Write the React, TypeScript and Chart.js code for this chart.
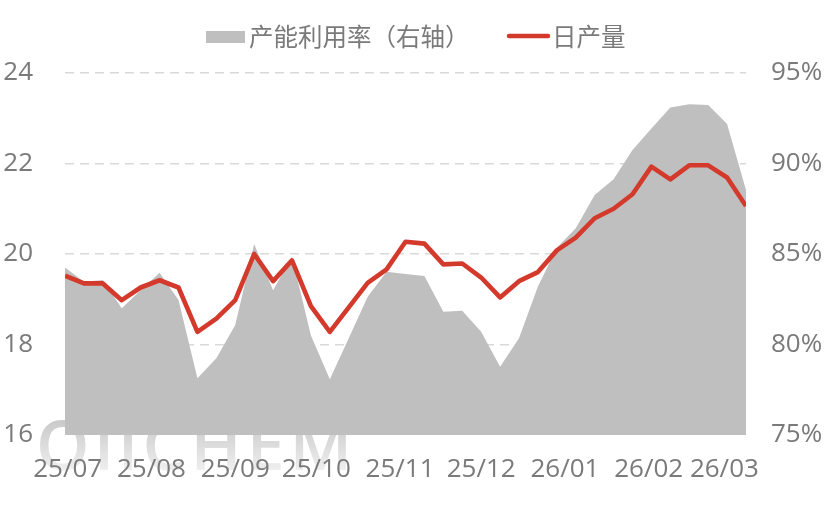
import React, { useEffect, useRef } from "react";
import { Chart, registerables } from "chart.js";

Chart.register(...registerables);

// weekly dates
const dates = [
  "2025-06-30", "2025-07-07", "2025-07-14", "2025-07-21", "2025-07-28",
  "2025-08-04", "2025-08-11", "2025-08-18", "2025-08-25",
  "2025-09-01", "2025-09-08", "2025-09-15", "2025-09-22", "2025-09-29",
  "2025-10-06", "2025-10-13", "2025-10-20", "2025-10-27",
  "2025-11-03", "2025-11-10", "2025-11-17", "2025-11-24",
  "2025-12-01", "2025-12-08", "2025-12-15", "2025-12-22", "2025-12-29",
  "2026-01-05", "2026-01-12", "2026-01-19", "2026-01-26",
  "2026-02-02", "2026-02-09", "2026-02-16", "2026-02-23",
  "2026-03-02", "2026-03-09",
];

// 日产量 (left axis)
const dailyOutput = [
  19.52, 19.35, 19.35, 18.98, 19.26, 19.42, 19.26, 18.28, 18.57, 18.98,
  20.0, 19.4, 19.86, 18.85, 18.28, 18.82, 19.36, 19.66, 20.27, 20.23,
  19.77, 19.79, 19.48, 19.04, 19.4, 19.6, 20.08, 20.36, 20.79, 21.0,
  21.32, 21.93, 21.65, 21.96, 21.96, 21.69, 21.06,
];

// 产能利用率 % (right axis)
const utilization = [
  84.25, 83.47, 83.56, 82.0, 83.0, 83.97, 82.46, 78.13, 79.24, 81.08,
  85.55, 83.0, 84.85, 80.5, 78.08, 80.34, 82.64, 84.02, 83.9, 83.78,
  81.81, 81.87, 80.71, 78.77, 80.34, 83.2, 85.35, 86.42, 88.26, 89.13,
  90.75, 91.94, 93.1, 93.27, 93.23, 92.18, 88.54,
];

const monthStarts = [
  "2025-07-01", "2025-08-01", "2025-09-01", "2025-10-01", "2025-11-01",
  "2025-12-01", "2026-01-01", "2026-02-01", "2026-03-01",
];
const monthLabels = ["25/07", "25/08", "25/09", "25/10", "25/11", "25/12", "26/01", "26/02", "26/03"];

const seriesNames = ["日产量", "产能利用率（右轴）"];
const watermark = "OilCHEM";

const dayNum = (s: string) => {
  const [y, m, d] = s.split("-").map(Number);
  return Date.UTC(y, m - 1, d) / 86400000;
};

const TICK_COLOR = "#7a7a7a";
const RED = "#d33a2c";
const GRAY = "#bfbfbf";

export default function App() {
  const ref = useRef<HTMLCanvasElement | null>(null);

  useEffect(() => {
    if (!ref.current) return;
    const xs = dates.map(dayNum);
    const monthVals = monthStarts.map(dayNum);

    const watermarkPlugin = {
      id: "watermark",
      beforeDraw(chart: any) {
        const ctx = chart.ctx;
        ctx.save();
        ctx.font = '600 68px "Open Sans"';
        try { (ctx as any).letterSpacing = "5px"; } catch (e) {}
        const g = ctx.createLinearGradient(0, 420, 0, 472);
        g.addColorStop(0, "#c9c9c9");
        g.addColorStop(1, "#f0f0f0");
        ctx.fillStyle = g;
        ctx.textBaseline = "alphabetic";
        ctx.textAlign = "left";
        ctx.fillText(watermark, 36, 470);
        ctx.restore();
      },
    };

    const legendPlugin = {
      id: "customLegend",
      afterDraw(chart: any) {
        const ctx = chart.ctx;
        const ds = chart.data.datasets;
        ctx.save();
        ctx.font = '24.5px "Noto Sans CJK SC"';
        ctx.textBaseline = "middle";
        ctx.textAlign = "left";
        // area item
        ctx.fillStyle = GRAY;
        ctx.fillRect(206, 31, 39, 12);
        ctx.fillStyle = TICK_COLOR;
        ctx.fillText(ds[1].label, 249, 37);
        // line item
        ctx.strokeStyle = RED;
        ctx.lineWidth = 4.5;
        ctx.lineCap = "round";
        ctx.beginPath();
        ctx.moveTo(509, 36);
        ctx.lineTo(548, 36);
        ctx.stroke();
        ctx.fillStyle = TICK_COLOR;
        ctx.fillText(ds[0].label, 552, 37);
        ctx.restore();
      },
    };

    const chart = new Chart(ref.current, {
      type: "line",
      data: {
        datasets: [
          {
            label: seriesNames[0],
            data: xs.map((x, i) => ({ x, y: dailyOutput[i] })),
            yAxisID: "y",
            borderColor: RED,
            backgroundColor: RED,
            borderWidth: 4.6,
            pointRadius: 0,
            tension: 0,
            borderJoinStyle: "round",
            fill: false,
          },
          {
            label: seriesNames[1],
            data: xs.map((x, i) => ({ x, y: utilization[i] })),
            yAxisID: "y1",
            borderColor: GRAY,
            backgroundColor: GRAY,
            borderWidth: 0,
            pointRadius: 0,
            tension: 0,
            fill: "start",
          },
        ],
      },
      options: {
        animation: false,
        responsive: false,
        events: [],
        layout: { padding: { top: 73, left: 0, right: 0, bottom: 0 } },
        plugins: { legend: { display: false }, tooltip: { enabled: false } },
        scales: {
          x: {
            type: "linear",
            min: xs[0],
            max: xs[xs.length - 1],
            grid: { display: false, drawTicks: false },
            border: { display: false },
            afterBuildTicks: (scale: any) => {
              scale.ticks = monthVals.map((v) => ({ value: v }));
            },
            afterFit: (scale: any) => {
              scale.height = 85;
            },
            ticks: {
              autoSkip: false,
              maxRotation: 0,
              padding: 19,
              color: TICK_COLOR,
              font: { family: "Open Sans", size: 26 },
              callback: (v: any) => {
                const idx = monthVals.indexOf(Number(v));
                return idx >= 0 ? monthLabels[idx] : "";
              },
            },
          },
          y: {
            position: "left",
            min: 16,
            max: 24,
            afterFit: (scale: any) => {
              scale.width = 65;
            },
            grid: {
              color: (c: any) => (c.tick && c.tick.value === 16 ? "rgba(0,0,0,0)" : "#d9d9d9"),
              lineWidth: 1.5,
              drawTicks: false,
            },
            border: { display: false, dash: [9, 6] },
            ticks: {
              stepSize: 2,
              padding: 32,
              color: TICK_COLOR,
              font: { family: "Open Sans", size: 26 },
            },
          },
          y1: {
            position: "right",
            min: 75,
            max: 95,
            afterFit: (scale: any) => {
              scale.width = 80;
            },
            grid: { display: false, drawTicks: false },
            border: { display: false },
            ticks: {
              stepSize: 5,
              padding: 25,
              color: TICK_COLOR,
              font: { family: "Open Sans", size: 26 },
              callback: (v: any) => `${v}%`,
            },
          },
        },
      } as any,
      plugins: [watermarkPlugin, legendPlugin],
    });

    return () => chart.destroy();
  }, []);

  return (
    <div style={{ position: "fixed", left: 0, top: 0, width: 826, height: 520, background: "#fff" }}>
      <canvas ref={ref} width={826} height={520} style={{ display: "block" }} />
    </div>
  );
}
